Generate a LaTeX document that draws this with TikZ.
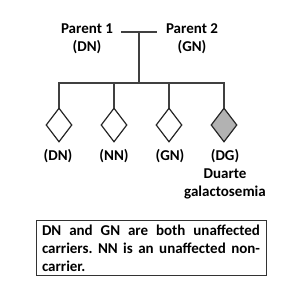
\documentclass[tikz,border=0pt]{standalone}
\usepackage{fontspec}
\setmainfont{Carlito}
\usetikzlibrary{shapes.geometric}

\begin{document}
\begin{tikzpicture}[x=1pt, y=-1pt, line width=1.1pt, line cap=rect,
    lbl/.style={inner sep=0pt, align=center, font=\fontsize{15}{18}\selectfont\bfseries},
    kid/.style={diamond, draw=black!85, line width=1.2pt, fill=white, inner sep=0pt,
                minimum width=26pt, minimum height=34pt},
    link/.style={draw=black!75, line width=1.1pt}]

  % ==== parents ====
  \node[lbl] (par1) at (87,38.5) {Parent 1\\(DN)};
  \node[lbl] (par2) at (192,38.5) {Parent 2\\(GN)};
  \coordinate (mateL) at (122,32);
  \coordinate (mateR) at (156,32);
  \coordinate (mateM) at (139,32);
  \coordinate (sibM)  at (139,83);
  \draw[link] (mateL) -- (mateR);
  \draw[link] (mateM) -- (sibM);

  % ==== children ====
  \node[kid] (kid1) at (59,125)  {};
  \node[kid] (kid2) at (114,125) {};
  \node[kid] (kid3) at (169,125) {};
  \node[kid, fill=black!30] (kid4) at (224,125) {};

  % sibship line
  \draw[link] (kid1.north |- sibM) -- (kid4.north |- sibM);
  \foreach \k in {1,...,4}
    \draw[link] (kid\k.north |- sibM) -- (kid\k.north);

  % ==== genotype labels ====
  \node[lbl] (gen1) at (58,156.5)  {(DN)};
  \node[lbl] (gen2) at (114,156.5) {(NN)};
  \node[lbl] (gen3) at (170,156.5) {(GN)};
  \node[lbl] (gen4) at (225,174) {(DG)\\Duarte\\galactosemia};

  % ==== note box ====
  \node[draw=black!80, line width=0.9pt, inner xsep=6pt, inner ysep=4pt,
        text width=218pt, align=justify, font=\fontsize{15}{18}\selectfont\bfseries,
        execute at begin node={\hyphenpenalty=10000\relax\frenchspacing}] (note) at (151,248)
    {DN and GN are both unaffected carriers. NN is an unaffected non-carrier.};

  \path[use as bounding box] (0,0) rectangle (300,303);
\end{tikzpicture}
\end{document}
